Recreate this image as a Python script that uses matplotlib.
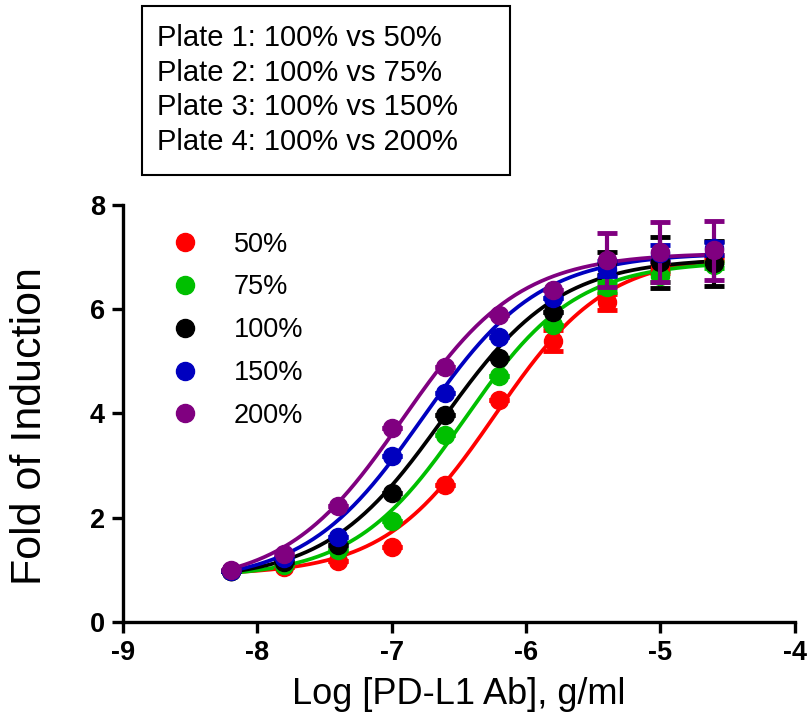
import numpy as np
import matplotlib
matplotlib.use("Agg")
import matplotlib.pyplot as plt
from matplotlib.lines import Line2D
from matplotlib.patches import Rectangle

plt.rcParams['font.family'] = ['Liberation Sans', 'DejaVu Sans']

# ---- data -----------------------------------------------------------------
log_conc = [-8.2, -7.8, -7.4, -7.0, -6.6, -6.2, -5.8, -5.4, -5.0, -4.6]
labels = ["50%", "75%", "100%", "150%", "200%"]
colors = ["#FF0000", "#00BF00", "#000000", "#0000BF", "#800080"]

y_50 = [0.98, 1.05, 1.17, 1.43, 2.63, 4.26, 5.40, 6.14, 6.80, 7.00]
y_75 = [0.98, 1.10, 1.38, 1.94, 3.59, 4.71, 5.69, 6.43, 6.63, 6.85]
y_100 = [0.98, 1.15, 1.48, 2.47, 3.97, 5.07, 5.95, 6.88, 6.90, 6.88]
y_150 = [0.98, 1.23, 1.63, 3.19, 4.40, 5.47, 6.22, 6.78, 7.08, 7.17]
y_200 = [1.00, 1.30, 2.23, 3.72, 4.90, 5.88, 6.37, 6.95, 7.10, 7.13]

sd_50 = [0, 0, 0, 0, 0, 0, 0.20, 0.15, 0.10, 0.05]
sd_75 = [0, 0, 0, 0, 0, 0, 0, 0.10, 0.10, 0.05]
sd_100 = [0, 0, 0, 0, 0, 0, 0, 0.22, 0.49, 0.43]
sd_150 = [0, 0, 0, 0, 0, 0, 0, 0.15, 0.15, 0.12]
sd_200 = [0, 0, 0, 0, 0, 0, 0, 0.52, 0.57, 0.57]

# 4PL fit parameters per series (bottom, top, logEC50, hill)
fit_bottom = [0.90, 0.85, 0.80, 0.75, 0.70]
fit_top = [7.05, 6.92, 6.98, 7.08, 7.08]
fit_ec50 = [-6.23, -6.46, -6.62, -6.77, -6.92]
fit_hill = [1.05, 1.05, 1.00, 1.00, 1.00]

plate_lines = ["Plate 1: 100% vs 50%", "Plate 2: 100% vs 75%",
               "Plate 3: 100% vs 150%", "Plate 4: 100% vs 200%"]

series_y = [y_50, y_75, y_100, y_150, y_200]
series_sd = [sd_50, sd_75, sd_100, sd_150, sd_200]


def four_pl(x, b, t, ec, h):
    return b + (t - b) / (1.0 + 10 ** ((ec - x) * h))


fig = plt.figure(figsize=(8.11, 7.19), dpi=100)
ax = fig.add_axes([0.1517, 0.1349, 0.8283, 0.58])

xs = np.linspace(log_conc[0], log_conc[-1], 300)
order = [4, 2, 3, 1, 0]  # draw purple first, red last
for i in order:
    c = colors[i]
    ax.plot(xs, four_pl(xs, fit_bottom[i], fit_top[i], fit_ec50[i], fit_hill[i]),
            color=c, lw=2.7, zorder=2 + i * 0.1)
    ax.errorbar(log_conc, series_y[i], yerr=series_sd[i], fmt="o", color=c,
                ms=13, elinewidth=3, capsize=7, capthick=3.5, zorder=3 + i * 0.1)

handles = [Line2D([], [], ls="none", marker="o", ms=13, color=c) for c in colors]
ax.legend(handles, labels, loc="upper left", bbox_to_anchor=(0.028, 0.975),
          frameon=False, fontsize=19.5, handletextpad=0.8, labelspacing=0.62,
          borderaxespad=0.2)

ax.set_xlim(-9, -4)
ax.set_ylim(0, 8)
ax.set_xticks([-9, -8, -7, -6, -5, -4])
ax.set_yticks([0, 2, 4, 6, 8])
ax.set_xticklabels(["-9", "-8", "-7", "-6", "-5", "-4"])
for s in ["top", "right"]:
    ax.spines[s].set_visible(False)
for s in ["left", "bottom"]:
    ax.spines[s].set_linewidth(2.4)
    ax.spines[s].set_zorder(10)
ax.tick_params(width=2.4, length=8, labelsize=19.5, pad=5)
for lab in ax.get_xticklabels() + ax.get_yticklabels():
    lab.set_fontweight("bold")
ax.set_xlabel("Log [PD-L1 Ab], g/ml", fontsize=26, labelpad=8)
ax.set_ylabel("Fold of Induction", fontsize=31)
ax.yaxis.set_label_coords(-0.109, 0.47)

# plate description box above the axes
W, H = 811, 719
fig.patches.append(Rectangle((142 / W, 1 - 175 / H), (510 - 142) / W, (175 - 6) / H,
                             transform=fig.transFigure, fill=False, lw=1.5,
                             edgecolor="black"))
for k, txt in enumerate(plate_lines):
    fig.text(157 / W, 1 - (38 + k * 34.7) / H, txt, fontsize=21, va="center", ha="left")

fig.savefig("out.png", dpi=100)
